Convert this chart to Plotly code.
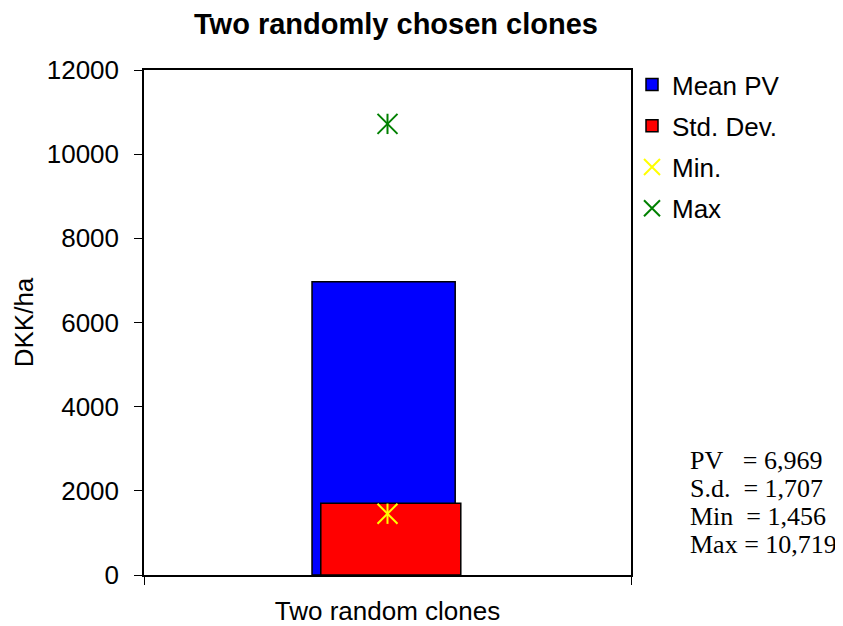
import plotly.graph_objects as go

# ---- data ----
categories = ["Two random clones"]
mean_pv = [6969]
std_dev = [1707]
min_val = [1456]
max_val = [10719]
series_names = ["Mean PV", "Std. Dev.", "Min.", "Max"]
stat_labels = ["PV\u00a0\u00a0\u00a0", "S.d.\u00a0\u00a0", "Min\u00a0\u00a0", "Max\u00a0"]
stat_values = [6969, 1707, 1456, 10719]
y_ticks = [0, 2000, 4000, 6000, 8000, 10000, 12000]

# page body has an 8px margin; lay out in reference pixels minus that offset
OFF = 8
W, H = 843 - OFF, 626 - OFF
px_left, px_right, px_top, px_bottom = 144 - OFF, 631 - OFF, 70 - OFF, 575 - OFF
L, R, T, B = px_left, W - px_right, px_top, H - px_bottom
pw, ph = px_right - px_left, px_bottom - px_top

SANS = "Liberation Sans, Arial, sans-serif"
SERIF = "Liberation Serif, Times New Roman, serif"
FS = 26

fig = go.Figure()
fig.add_trace(go.Bar(
    x=categories, y=mean_pv, name=series_names[0],
    width=0.294, offset=-0.155,
    marker=dict(color="#0000FF", line=dict(color="black", width=1.5)),
    legendgroup="a",
))
fig.add_trace(go.Bar(
    x=categories, y=std_dev, name=series_names[1],
    width=0.2875, offset=-0.137,
    marker=dict(color="#FF0000", line=dict(color="black", width=1.5)),
    legendgroup="b",
))


def star(vals, name, color, group):
    # Excel-style star: an X with a vertical stroke of the same height
    fig.add_trace(go.Scatter(
        x=categories, y=vals, name=name, mode="markers",
        marker=dict(symbol="x-thin-open", size=20, color=color,
                    line=dict(color=color, width=2)),
        legendgroup=group,
    ))
    fig.add_trace(go.Scatter(
        x=categories, y=vals, name=name, mode="markers", showlegend=False,
        hoverinfo="skip",
        marker=dict(symbol="line-ns-open", size=14.5, color=color,
                    line=dict(color=color, width=2)),
        legendgroup=group,
    ))


star(min_val, series_names[2], "#FFFF00", "c")
star(max_val, series_names[3], "#008000", "d")

# stats text block (positions in reference pixels)
base_px = 460
step_px = 28
for i, (lab, val) in enumerate(zip(stat_labels, stat_values)):
    py = base_px + i * step_px - OFF
    fig.add_annotation(
        x=(688 - OFF - px_left) / pw, y=(px_bottom - py) / ph,
        xref="paper", yref="paper",
        xanchor="left", yanchor="middle", showarrow=False,
        text=f"{lab}= {val:,}",
        font=dict(family=SERIF, size=26, color="black"),
    )

fig.update_layout(
    width=W, height=H,
    margin=dict(l=L, r=R, t=T, b=B, autoexpand=False),
    paper_bgcolor="white", plot_bgcolor="white",
    barmode="overlay",
    title=dict(text="<b>Two randomly chosen clones</b>",
               x=(396 - OFF) / W, xref="container", xanchor="center",
               y=1 - (24 - OFF) / H, yref="container", yanchor="middle",
               font=dict(family=SANS, size=29, color="black")),
    font=dict(family=SANS, size=FS, color="black"),
    showlegend=True,
    legend=dict(x=(632 - OFF - px_left) / pw, y=1 + 9 / ph,
                xanchor="left", yanchor="top",
                bgcolor="rgba(0,0,0,0)", tracegroupgap=4.5,
                font=dict(family=SANS, size=FS, color="black"),
                itemsizing="trace"),
    xaxis=dict(type="category", range=[-0.5, 0.5], tickson="boundaries",
               ticks="outside", ticklen=8, tickcolor="black", tickwidth=1,
               showline=True, linecolor="black", linewidth=1.5, mirror=True,
               showgrid=False, zeroline=False, ticklabelstandoff=12,
               tickfont=dict(family=SANS, size=FS, color="black")),
    yaxis=dict(range=[0, 12000], tickvals=y_ticks, ticktext=[str(v) for v in y_ticks],
               ticks="outside", ticklen=8, tickcolor="black", tickwidth=1,
               showline=True, linecolor="black", linewidth=1.5, mirror=True,
               showgrid=False, zeroline=False, ticklabelstandoff=10,
               title=dict(text="DKK/ha", standoff=6,
                          font=dict(family=SANS, size=FS, color="black")),
               tickfont=dict(family=SANS, size=FS, color="black")),
)

fig.write_html("out.html")
